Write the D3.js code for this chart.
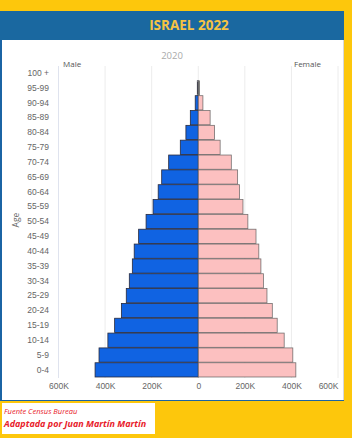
<!DOCTYPE html>
<html lang="es">
<head>
<meta charset="UTF-8">
<title>Israel 2022</title>
<style>
  body { margin: 0; background: #fdc70c; }
  svg { display: block; font-family: "Open Sans", "Noto Sans", sans-serif; }
</style>
</head>
<body>
<svg id="chart" width="352" height="438"></svg>
<script src="https://cdn.jsdelivr.net/npm/d3@7"></script>
<script>
// age groups, top to bottom
const ages = ["100 +", "95-99", "90-94", "85-89", "80-84", "75-79", "70-74", "65-69", "60-64",
  "55-59", "50-54", "45-49", "40-44", "35-39", "30-34", "25-29", "20-24", "15-19", "10-14", "5-9", "0-4"];
// population in thousands
const male = [0, 4, 13, 34, 53, 77, 127, 157, 172, 194, 224, 256, 275, 283, 296, 309, 330, 359, 388, 426, 443];
const female = [0, 5, 20, 51, 70, 94, 142, 169, 177, 192, 213, 248, 260, 269, 280, 295, 318, 339, 369, 406, 419];
const ticks = [-600, -400, -200, 0, 200, 400, 600];

const svg = d3.select("#chart");

// background panel
svg.append("rect").attr("x", 0).attr("y", 0).attr("width", 352).attr("height", 438).attr("fill", "#fdc70c");
svg.append("rect").attr("x", 0).attr("y", 11).attr("width", 344).attr("height", 390).attr("fill", "#1b64a4");
svg.append("rect").attr("x", 2).attr("y", 40).attr("width", 341).attr("height", 360).attr("fill", "#fff");
svg.append("line").attr("x1", 343.5).attr("x2", 343.5).attr("y1", 40).attr("y2", 400)
  .attr("stroke", "#d8d8d8");
svg.append("rect").attr("x", 0).attr("y", 11).attr("width", 344).attr("height", 29).attr("fill", "#1a68a0");

svg.append("text").attr("x", 189).attr("y", 30).attr("text-anchor", "middle")
  .attr("fill", "#f6c343").attr("font-size", 13.5).attr("font-weight", "bold")
  .text("ISRAEL 2022");

const x = d3.scaleLinear().domain([-600, 600]).range([58.5, 338]);
const y = d3.scaleBand().domain(ages).range([66, 377]).paddingInner(0.04);

// grid
svg.append("g").selectAll("line").data(ticks).join("line")
  .attr("x1", d => x(d)).attr("x2", d => x(d))
  .attr("y1", 66).attr("y2", 378)
  .attr("stroke", (d, i) => i === 0 ? "#dfe3ee" : "#ececec");

// bars
const rows = ages.map((a, i) => ({ age: a, m: male[i], f: female[i] }));

svg.append("g").selectAll("rect").data(rows.filter(d => d.m > 0)).join("rect")
  .attr("x", d => x(-d.m)).attr("y", d => y(d.age))
  .attr("width", d => x(0) - x(-d.m)).attr("height", y.bandwidth())
  .attr("fill", d => d.m < 6 ? "#777" : "#1063e2")
  .attr("stroke", "#2a2a3a").attr("stroke-width", 0.8);

svg.append("g").selectAll("rect").data(rows.filter(d => d.f > 0)).join("rect")
  .attr("x", x(0)).attr("y", d => y(d.age))
  .attr("width", d => x(d.f) - x(0)).attr("height", y.bandwidth())
  .attr("fill", d => d.f < 6 ? "#888" : "#fcc0c0")
  .attr("stroke", "#555").attr("stroke-width", 0.8).attr("stroke-opacity", 0.8);

// axes
const xAxis = d3.axisBottom(x).tickValues(ticks).tickSize(0)
  .tickFormat(d => d === 0 ? "0" : Math.abs(d) + "K");
svg.append("g").attr("transform", "translate(0,380)").call(xAxis)
  .call(g => g.select(".domain").remove())
  .selectAll("text").attr("fill", "#666").attr("font-size", 8.5)
  .attr("text-anchor", d => d === 600 ? "end" : "middle");

const yAxis = d3.axisLeft(y).tickSize(0).tickPadding(0);
svg.append("g").attr("transform", "translate(49,0)").call(yAxis)
  .call(g => g.select(".domain").remove())
  .selectAll("text").attr("fill", "#666").attr("font-size", 8.5);

// labels
svg.append("text").attr("x", 172).attr("y", 59).attr("text-anchor", "middle")
  .attr("fill", "#aaa").attr("font-size", 9.5).text("2020");
svg.append("text").attr("x", 63).attr("y", 67).attr("fill", "#555").attr("font-size", 8).text("Male");
svg.append("text").attr("x", 294).attr("y", 67).attr("fill", "#555").attr("font-size", 8).text("Female");
svg.append("text").attr("transform", "translate(19,220) rotate(-90)").attr("text-anchor", "middle")
  .attr("fill", "#666").attr("font-size", 8.5).text("Age");

// credits box
svg.append("rect").attr("x", 2).attr("y", 403).attr("width", 153).attr("height", 31).attr("fill", "#fff");
svg.append("text").attr("x", 4).attr("y", 414).attr("fill", "#e8202a").attr("font-size", 7.5)
  .attr("font-style", "italic").text("Fuente Census Bureau");
svg.append("text").attr("x", 4).attr("y", 427).attr("fill", "#e8202a").attr("font-size", 9)
  .attr("font-style", "italic").attr("font-weight", "bold").text("Adaptada por Juan Martín Martín");
</script>
</body>
</html>
